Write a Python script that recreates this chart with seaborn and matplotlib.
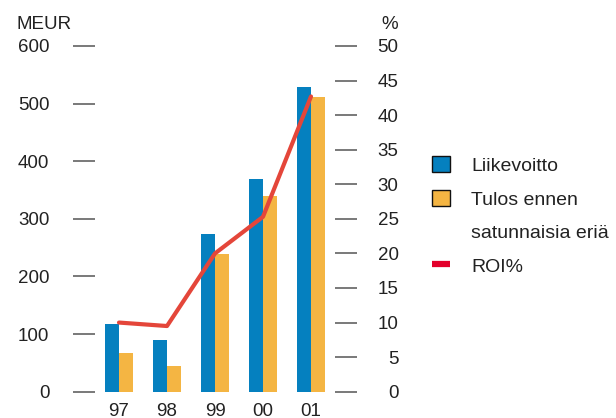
import matplotlib
matplotlib.use("Agg")
import matplotlib.pyplot as plt
from matplotlib.patches import Patch
from matplotlib.lines import Line2D
import seaborn as sns
import pandas as pd

years = ["97", "98", "99", "00", "01"]
liikevoitto = [118, 89, 274, 370, 528]
tulos_ennen = [67, 45, 239, 339, 512]
roi = [10.0, 9.5, 20.0, 25.3, 42.7]

BLUE = "#0580bf"
YELLOW = "#f4b543"
LINE_RED = "#e4463a"
LEGEND_RED = "#e3002b"
TEXT = "#222222"
TICK = "#555555"

sns.set_theme(style="white")
plt.rcParams["font.family"] = ["Liberation Sans", "DejaVu Sans"]
plt.rcParams["text.color"] = TEXT

bars = pd.DataFrame({
    "vuosi": years * 2,
    "MEUR": liikevoitto + tulos_ennen,
    "sarja": ["Liikevoitto"] * len(years) + ["Tulos ennen satunnaisia eriä"] * len(years),
})
line = pd.DataFrame({"vuosi": years, "ROI": roi})

fig = plt.figure(figsize=(6.16, 4.18), dpi=100)
ax = fig.add_axes([95 / 616, 1 - 391.7 / 418, 240 / 616, (391.7 - 46) / 418])

sns.barplot(data=bars, x="vuosi", y="MEUR", hue="sarja", order=years,
            palette=[BLUE, YELLOW], width=0.58, gap=0, ax=ax,
            saturation=1, legend=False, linewidth=0)
ax.set_ylim(0, 600)
ax.set_xlim(-0.5, 4.5)
ax.set_yticks(range(0, 601, 100))
ax.set_xlabel("")
ax.set_ylabel("")

ax2 = ax.twinx()
sns.lineplot(data=line, x="vuosi", y="ROI", color=LINE_RED, linewidth=3.0,
             ax=ax2, sort=False)
ax2.set_ylim(0, 50)
ax2.set_xlim(-0.5, 4.5)
ax2.set_yticks(range(0, 51, 5))
ax2.set_ylabel("")
ax2.set_xlabel("")

for a in (ax, ax2):
    for s in a.spines.values():
        s.set_visible(False)
    a.grid(False)
    a.set_facecolor("none")

ax.tick_params(axis="y", which="major", length=15.8, width=1.1, color=TICK,
               pad=17, labelsize=13.5, labelcolor=TEXT, left=True)
ax.tick_params(axis="x", length=0, pad=8, labelsize=13.5, labelcolor=TEXT)
ax2.tick_params(axis="y", which="major", length=15.8, width=1.1, color=TICK,
                pad=30, labelsize=13.5, labelcolor=TEXT, right=True)
for lab in ax2.get_yticklabels():
    lab.set_horizontalalignment("right")

fig.text(16 / 616, 1 - 29 / 418, "MEUR", fontsize=13.5, ha="left", va="baseline")
fig.text(398 / 616, 1 - 29 / 418, "%", fontsize=13.5, ha="right", va="baseline")

handles = [
    Patch(facecolor=BLUE, edgecolor="#111111", linewidth=1),
    Patch(facecolor=YELLOW, edgecolor="#111111", linewidth=1),
    Patch(facecolor="none", edgecolor="none"),
    Line2D([], [], color=LEGEND_RED, linewidth=4.5, solid_capstyle="butt"),
]
labels = ["Liikevoitto", "Tulos ennen", "satunnaisia eriä", "ROI%"]
fig.legend(handles, labels, loc="upper left",
           bbox_to_anchor=(432 / 616, 1 - 156 / 418), frameon=False,
           fontsize=14, handlelength=0.92, handleheight=0.92,
           handletextpad=1.1, labelspacing=0.76, borderpad=0,
           borderaxespad=0, labelcolor=TEXT)

fig.savefig("out.png", dpi=100)
